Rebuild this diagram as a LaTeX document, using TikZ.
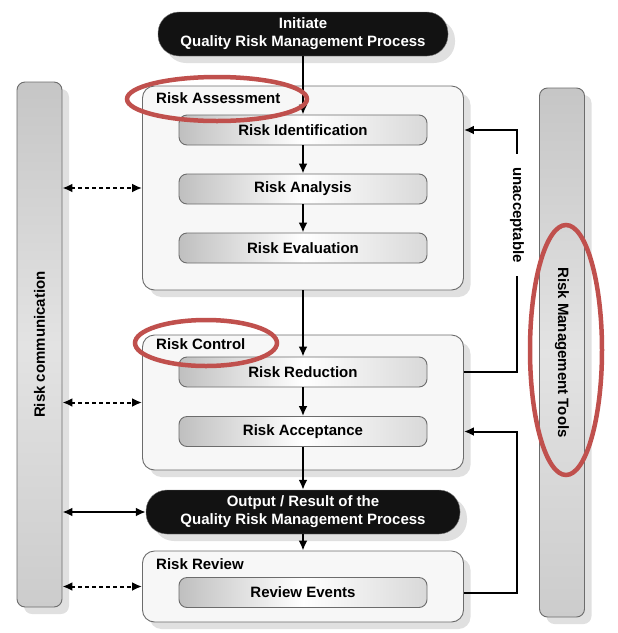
\documentclass[tikz,border=0pt]{standalone}
\usepackage{fontspec}
\setmainfont{Liberation Sans}
\usetikzlibrary{arrows.meta,shadows,positioning}
\definecolor{marca}{HTML}{C0504D}
\tikzstyle{base} = [font=\fontsize{15}{18}\selectfont\bfseries, align=center]
\tikzstyle{sombra} = [drop shadow={shadow xshift=7pt, shadow yshift=-7pt, opacity=.12, fill=black}]
\tikzstyle{pill} = [base, sombra, draw=gray, fill=black!93, text=white, rounded corners=21pt, minimum height=44pt]
\tikzstyle{phase} = [sombra, draw=gray!85!black, fill=gray!6, rounded corners=12pt, minimum width=321pt, line width=0.9pt]
\tikzstyle{subphase} = [base, draw=gray!85!black, left color=gray!50, right color=gray!30, middle color=white, rounded corners=8pt, minimum width=248pt, minimum height=30pt, inner sep=0pt, line width=0.9pt]
\tikzstyle{phasetitle} = [base, anchor=west, inner sep=0pt]
\tikzstyle{sidebar} = [base, sombra, draw=gray!85!black, top color=gray!45, bottom color=gray!40, middle color=gray!22, rounded corners=8pt, minimum height=45pt, line width=0.9pt]
\tikzstyle{flow} = [-{Latex[length=10pt,width=9pt]}, line width=2pt]
\tikzstyle{both} = [{Latex[length=10pt,width=9pt]}-{Latex[length=10pt,width=9pt]}, line width=2pt]
\tikzstyle{talk} = [both, dash pattern=on 4pt off 3pt]
\tikzstyle{highlight} = [draw=marca, line width=4.5pt]

\begin{document}
\begin{tikzpicture}[x=1pt,y=-1pt]
	\useasboundingbox (0,0) rectangle (618,633);
	\fill[white] (0,0) rectangle (618,633);
	\node[pill, minimum width=290pt] (init) at (303,34) {Initiate\\Quality Risk Management Process};
	\node[phase, minimum height=204pt] (assess) at (303,188) {};
	\node[phasetitle] (assesstitle) at (156,98) {Risk Assessment};
	\node[subphase] (ident) at (303,130) {Risk Identification};
	\node[subphase] (anal) at (303,189) {Risk Analysis};
	\node[subphase] (eval) at (303,248) {Risk Evaluation};
	\node[phase, minimum height=135pt] (ctrl) at (303,402.5) {};
	\node[phasetitle] (ctrltitle) at (156,344) {Risk Control};
	\node[subphase] (red) at (303,372) {Risk Reduction};
	\node[subphase] (acc) at (303,431.5) {Risk Acceptance};
	\node[pill, minimum width=314pt] (out) at (303,512) {Output / Result of the\\Quality Risk Management Process};
	\node[phase, minimum height=71pt] (review) at (303,586.5) {};
	\node[phasetitle] (reviewtitle) at (156,564) {Risk Review};
	\node[subphase] (events) at (303,592.5) {Review Events};
	\node[sidebar, rotate=90, minimum width=525pt] (comm) at (39.5,344.5) {Risk communication};
	\node[sidebar, rotate=-90, minimum width=529pt] (tools) at (562,352.5) {Risk Management Tools};
	\coordinate (fb) at (517,0);

	\draw[flow] (init) -- (ident);
	\draw[flow] (ident) -- (anal);
	\draw[flow] (anal) -- (eval);
	\draw[flow] (assess) -- (red);
	\draw[flow] (red) -- (acc);
	\draw[flow] (acc) -- (out);
	\draw[flow] (out) -- (review);
	\draw[talk] (comm.south |- assess.west) -- (assess.west);
	\draw[talk] (comm.south |- ctrl.west) -- (ctrl.west);
	\draw[both] (comm.south |- out.west) -- (out.west);
	\draw[talk] (comm.south |- review.west) -- (review.west);
	\draw[flow] (ctrl.east |- red.east) -| (fb |- ident.east) -- (assess.east |- ident.east);
	\node[base, rotate=-90, fill=white, inner xsep=13pt, inner ysep=3pt] (unacc) at (517,215) {unacceptable};
	\draw[flow] (review.east |- events.east) -| (fb |- acc.east) -- (ctrl.east |- acc.east);

	\draw[highlight] (217,99) ellipse [x radius=90pt, y radius=22pt];
	\draw[highlight] (206,343) ellipse [x radius=71pt, y radius=23pt];
	\draw[highlight] (566,350) ellipse [x radius=36pt, y radius=125pt];
\end{tikzpicture}
\end{document}
